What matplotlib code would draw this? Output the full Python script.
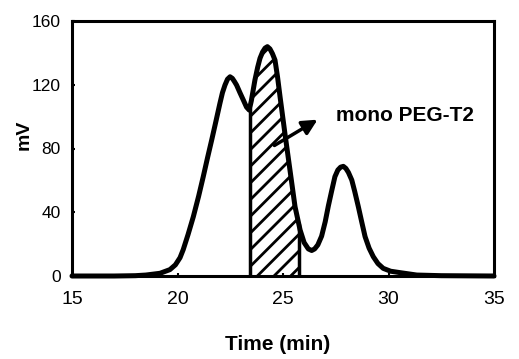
import numpy as np
import matplotlib
matplotlib.use("Agg")
import matplotlib.pyplot as plt

plt.rcParams['font.family'] = ['Liberation Sans', 'DejaVu Sans']
plt.rcParams['hatch.linewidth'] = 2.0

# Chromatogram
time_min = [15.0, 17.0, 18.0, 18.5, 19.17, 19.64, 19.9, 20.12, 20.27, 20.5,
            20.75, 21.0, 21.22, 21.42, 21.62, 21.82, 22.01, 22.13, 22.25, 22.37,
            22.49, 22.6, 22.7, 22.8, 22.96, 23.12, 23.27, 23.4, 23.5, 23.67,
            23.8, 23.91, 24.03, 24.15, 24.26, 24.38, 24.5, 24.62, 24.74, 24.86,
            25.09, 25.33, 25.57, 25.81, 26.0, 26.2, 26.36, 26.5, 26.65, 26.83,
            27.0, 27.15, 27.3, 27.46, 27.6, 27.73, 27.86, 27.98, 28.1, 28.26,
            28.4, 28.57, 28.73, 28.89, 29.08, 29.28, 29.5, 29.75, 30.1, 30.55,
            31.34, 32.5, 35.0]
signal_mv = [0, 0, 0.2, 0.6, 1.7, 4.0, 7.0, 11.5, 16.5, 26,
             37.2, 50, 62.3, 74, 85.3, 97, 108.3, 115, 119.8, 123.5,
             125, 124, 122, 119.8, 115, 110.4, 106, 104.1, 110, 123,
             131, 136.6, 140.5, 143, 143.9, 142.5, 139.5, 135.5, 125, 112.5,
             89.5, 66.5, 43.5, 28.9, 21, 17, 16, 17, 19.5, 25,
             34, 44, 53, 62.3, 66.5, 68.3, 68.8, 67.5, 65, 60.2,
             53, 43.5, 34, 24.7, 17.5, 12.1, 7.8, 4.8, 3, 2.1,
             0.6, 0.2, 0]

fraction_start = 23.42
fraction_end = 25.75
label_text = "mono PEG-T2"
arrow_from = (24.48, 81)
arrow_to = (26.75, 99)

x_ticks = [15, 20, 25, 30, 35]
y_ticks = [0, 40, 80, 120, 160]

fig = plt.figure(figsize=(5.19, 3.59), dpi=100)
ax = fig.add_axes([72/519, 1-276/359, (494-72)/519, (276-21)/359])

t = np.array(time_min, float)
s = np.array(signal_mv, float)

# hatched fraction
mask = (t > fraction_start) & (t < fraction_end)
tf = np.concatenate([[fraction_start], t[mask], [fraction_end]])
sf = np.concatenate([[np.interp(fraction_start, t, s)], s[mask], [np.interp(fraction_end, t, s)]])
ax.fill_between(tf, 0, sf, facecolor='white', edgecolor='black', hatch='//', linewidth=0)
ax.plot([fraction_start, fraction_start], [0, sf[0]], color='black', lw=2.5, solid_capstyle='butt')
ax.plot([fraction_end, fraction_end], [0, sf[-1]], color='black', lw=2.5, solid_capstyle='butt')

ax.plot(t, s, color='black', lw=3.6, solid_joinstyle='round', solid_capstyle='round', clip_on=False)

ax.annotate("", xy=arrow_to, xytext=arrow_from,
            arrowprops=dict(arrowstyle='-|>,head_length=0.9,head_width=0.45', color='black', lw=2.5))
ax.text(27.5, 101, label_text, fontsize=15, fontweight='bold', va='center', ha='left')

ax.set_xlim(15, 35)
ax.set_ylim(0, 160)
ax.set_xticks(x_ticks)
ax.set_yticks(y_ticks)
ax.tick_params(axis='x', direction='in', length=2, width=1.5, labelsize=14, pad=11)
ax.tick_params(axis='y', direction='in', length=2, width=1.5, labelsize=12.5, pad=8)
for sp in ax.spines.values():
    sp.set_linewidth(2.2)

ax.set_xlabel("Time (min)", fontsize=15, fontweight='bold')
ax.xaxis.label.set_va('center')
ax.xaxis.set_label_coords((278 - 72) / 422, (276 - 344) / 255)
ax.set_ylabel("mV", fontsize=14, fontweight='bold')
ax.yaxis.label.set_va('center')
ax.yaxis.label.set_ha('center')
ax.yaxis.set_label_coords((24 - 72) / 422, (276 - 135) / 255)

fig.savefig("out.png", dpi=100)
